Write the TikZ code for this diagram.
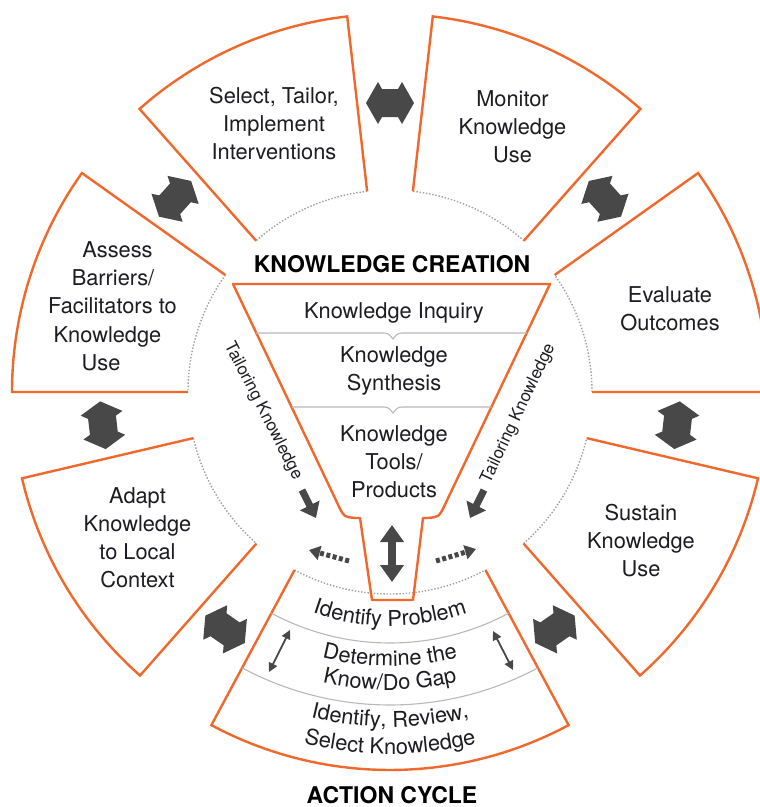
\documentclass[tikz,border=0pt]{standalone}
\usepackage{fontspec}
\setmainfont{TeX Gyre Heros}
\usetikzlibrary{arrows.meta,decorations.text}
\definecolor{orng}{RGB}{240,104,44}
\definecolor{agrey}{RGB}{72,72,72}
\definecolor{dotgrey}{RGB}{160,160,160}
\definecolor{divgrey}{RGB}{185,185,185}
\definecolor{txt}{RGB}{28,28,34}
\begin{document}
\begin{tikzpicture}[x=1pt,y=1pt,
  seg/.style={draw=orng, line width=2.4pt, line join=miter},
  innerarc/.style={draw=dotgrey, line width=1.4pt, dash pattern=on 1.4pt off 1.8pt},
  divider/.style={draw=divgrey, line width=1.1pt},
  lbl/.style={text=txt, align=center, font=\fontsize{21.8}{28}\selectfont, inner sep=0pt},
  tail/.style={text=txt, font=\fontsize{17}{20}\selectfont, inner sep=0pt},
  head/.style={text=black, font=\fontsize{23}{26}\selectfont\bfseries, inner sep=0pt},
  bigtip/.style={agrey, line width=8pt, {Triangle[width=23pt,length=17pt]}-{Triangle[width=23pt,length=17pt]}},
  pointer/.style={agrey, line width=7pt, -{Triangle[width=21pt,length=14pt]}},
  dashptr/.style={agrey, line width=5pt, dash pattern=on 4pt off 2.5pt, -{Triangle[width=14pt,length=11pt]}},
  thinptr/.style={agrey, line width=1.8pt, {Triangle[width=9pt,length=9pt]}-{Triangle[width=9pt,length=9pt]}},
  dblarrow/.pic={\fill[agrey] (24,0) -- (12,21) -- (8,14) -- (-8,14) -- (-12,21) -- (-24,0)
      -- (-12,-21) -- (-8,-14) -- (8,-14) -- (12,-21) -- cycle;},
  curved/.style={decorate, decoration={text along path, text align=center, text color=txt,
      text={|\fontsize{21.8}{24}\selectfont|#1}}}
]
\clip (0,0) rectangle (760,-807);
\fill[white] (0,0) rectangle (760,-807);
\coordinate (C) at (390,-392);

% outer segments
\foreach \a/\b in {0/35.4, 48.5/83.5, 96.5/131.5, 144.6/180, 193.2/228.6, 241.8/298.2, 311.4/346.8}{
  \draw[innerarc] ([shift={(\a:202)}]C) arc[start angle=\a, end angle=\b, radius=202];
  \draw[seg] ([shift={(\a:202)}]C) -- ([shift={(\a:378)}]C)
     arc[start angle=\a, end angle=\b, radius=378] -- ([shift={(\b:202)}]C);
}

% bands of the action-cycle segment
\draw[divider] ([shift={(241.8:251)}]C) arc[start angle=241.8, end angle=298.2, radius=251];
\draw[divider] ([shift={(241.8:313)}]C) arc[start angle=241.8, end angle=298.2, radius=313];

% big double arrows in the gaps
\foreach \t in {90,138.05,186.6,235.2,304.8,353.4,41.95}{
  \pic[rotate=\t+90] at ([shift={(\t:289)}]C) {dblarrow};
}

% funnel
\draw[seg, line join=round] (233,-284) -- (550,-284) -- (444.2,-506.2) .. controls (439,-517) .. (427,-518)
  -- (423,-518) -- (413,-600) -- (372,-600) -- (360,-518) -- (356,-518)
  .. controls (344,-517) .. (338.8,-506.2) -- cycle;
\draw[divider] (256,-333) -- (381,-333) .. controls (388,-333) .. (393,-339)
  .. controls (398,-333) .. (405,-333) -- (527,-333);
\draw[divider] (291.5,-407) -- (381,-407) .. controls (388,-407) .. (393,-413)
  .. controls (398,-407) .. (405,-407) -- (491.5,-407);

% arrows near the funnel
\coordinate (s1) at (392,-525);
\coordinate (s2) at (392,-582);
\draw[bigtip] (s1) -- (s2);
\coordinate (pl1) at (302,-490);
\coordinate (pl2) at (316,-518);
\draw[pointer] (pl1) -- (pl2);
\coordinate (pr1) at (484,-490);
\coordinate (pr2) at (470,-518);
\draw[pointer] (pr1) -- (pr2);
\coordinate (dl1) at (349,-561);
\coordinate (dl2) at (309,-550);
\draw[dashptr] (dl1) -- (dl2);
\coordinate (dr1) at (436,-561);
\coordinate (dr2) at (476,-549);
\draw[dashptr] (dr1) -- (dr2);
\coordinate (tl1) at (290,-630);
\coordinate (tl2) at (269,-672);
\draw[thinptr] (tl1) -- (tl2);
\coordinate (tr1) at (493,-631);
\coordinate (tr2) at (513,-670);
\draw[thinptr] (tr1) -- (tr2);

% headings
\node[head, anchor=base] (kc) at (392,-272) {KNOWLEDGE CREATION};
\node[head, anchor=base] (ac) at (392,-803) {ACTION CYCLE};

% segment labels
\node[lbl] (select) at (274,-123.5) {Select, Tailor,\\Implement\\Interventions};
\node[lbl] (monitor) at (512.5,-126.5) {Monitor\\Knowledge\\Use};
\node[lbl] (evaluate) at (670,-308.5) {Evaluate\\Outcomes};
\node[lbl] (sustain) at (641,-541) {Sustain\\Knowledge\\Use};
\node[lbl] (adapt) at (137.5,-537.5) {Adapt\\Knowledge\\to Local\\Context};
\node[lbl, anchor=base] (assess1) at (117.5,-257) {Assess};
\node[lbl, anchor=base] (assess2) at (113,-285) {Barriers/};
\node[lbl, anchor=base] (assess3) at (112.5,-313) {Facilitators to};
\node[lbl, anchor=base] (assess4) at (107.5,-342) {Knowledge};
\node[lbl, anchor=base] (assess5) at (101,-370) {Use};

% funnel labels
\node[lbl, anchor=base] (inquiry) at (394,-318) {Knowledge Inquiry};
\node[lbl] (synth) at (394,-370.5) {Knowledge\\Synthesis};
\node[lbl] (tools) at (394,-461.5) {Knowledge\\Tools/\\Products};
\node[tail, rotate=-62.8] (tailL) at (263,-411) {Tailoring Knowledge};
\node[tail, rotate=64.7] (tailR) at (518.5,-413.5) {Tailoring Knowledge};

% action cycle curved labels
\path[curved={Identify Problem}] ([shift={(232:234)}]C) arc[start angle=232, end angle=308, radius=234];
\path[curved={Determine the}] ([shift={(232:274)}]C) arc[start angle=232, end angle=308, radius=274];
\path[curved={Know/Do Gap}] ([shift={(232:298)}]C) arc[start angle=232, end angle=308, radius=298];
\path[curved={Identify, Review,}] ([shift={(232:335)}]C) arc[start angle=232, end angle=308, radius=335];
\path[curved={Select Knowledge}] ([shift={(232:362)}]C) arc[start angle=232, end angle=308, radius=362];
\end{tikzpicture}
\end{document}
